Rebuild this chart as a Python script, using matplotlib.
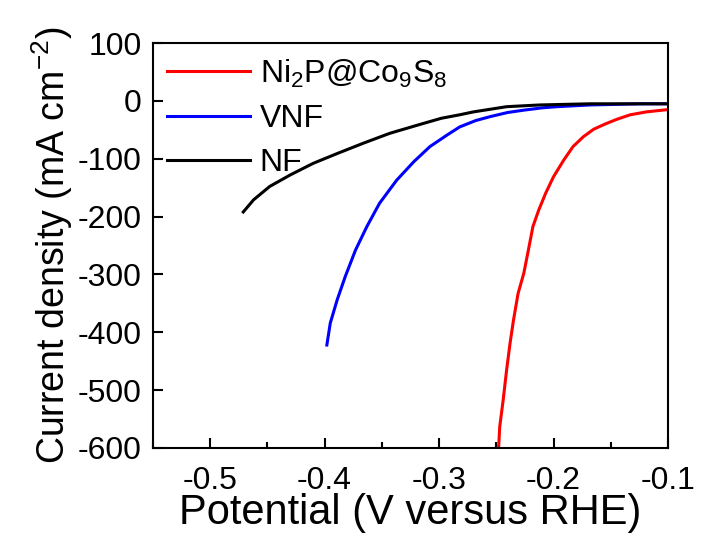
import matplotlib
matplotlib.use('Agg')
import matplotlib.pyplot as plt
import matplotlib.ticker as mticker

plt.rcParams['font.family'] = ['Liberation Sans', 'DejaVu Sans']
plt.rcParams['mathtext.fontset'] = 'custom'
plt.rcParams['mathtext.rm'] = 'Liberation Sans'
plt.rcParams['mathtext.it'] = 'Liberation Sans'
plt.rcParams['axes.unicode_minus'] = False

# Ni2P@Co9S8 polarisation curve (V vs RHE, mA cm-2)
ni2p_v = [-0.248, -0.247, -0.244, -0.241, -0.238, -0.235, -0.231, -0.226,
          -0.222, -0.218, -0.213, -0.207, -0.200, -0.191, -0.183, -0.174,
          -0.165, -0.155, -0.145, -0.133, -0.119, -0.100]
ni2p_j = [-600, -563, -517, -465, -419, -379, -333, -298,
          -258, -217, -189, -160, -131, -102, -79, -62,
          -49, -40, -32, -24, -19, -15]

# VNF
vnf_v = [-0.398, -0.395, -0.389, -0.382, -0.373, -0.363, -0.352, -0.337,
         -0.322, -0.308, -0.293, -0.282, -0.268, -0.255, -0.240, -0.226,
         -0.210, -0.197, -0.168, -0.124, -0.100]
vnf_j = [-422, -384, -344, -304, -258, -217, -177, -137,
         -105, -79, -59, -45, -34, -27, -20, -16,
         -12, -10, -7, -5, -5]

# NF
nf_v = [-0.471, -0.462, -0.448, -0.430, -0.410, -0.389, -0.366, -0.343,
        -0.319, -0.298, -0.282, -0.270, -0.241, -0.212, -0.168, -0.130, -0.100]
nf_j = [-192, -171, -148, -128, -108, -91, -73, -56,
        -42, -30, -24, -19, -10, -7, -5, -5, -5]

labels = ['Ni$_2$P@Co$_9$S$_8$', 'VNF', 'NF']
colors = ['#ff0000', '#0000ff', '#000000']

fig = plt.figure(figsize=(7.01, 5.45), dpi=100)
ax = fig.add_axes([0.218, 0.178, 0.735, 0.743])

ax.plot(ni2p_v, ni2p_j, color=colors[0], lw=2.2, label=labels[0])
ax.plot(vnf_v, vnf_j, color=colors[1], lw=2.2, label=labels[1])
ax.plot(nf_v, nf_j, color=colors[2], lw=2.2, label=labels[2])

ax.set_xlim(-0.55, -0.1)
ax.set_ylim(-600, 100)
ax.xaxis.set_major_locator(mticker.MultipleLocator(0.1))
ax.xaxis.set_minor_locator(mticker.MultipleLocator(0.05))
ax.yaxis.set_major_locator(mticker.MultipleLocator(100))
ax.xaxis.set_major_formatter(mticker.FormatStrFormatter('%.1f'))

for s in ax.spines.values():
    s.set_linewidth(1.5)
ax.tick_params(which='both', direction='in', top=False, right=False,
               width=1.5, labelsize=23)
ax.tick_params(axis='x', pad=13)
ax.tick_params(axis='y', pad=8)
ax.tick_params(which='major', length=7)
ax.tick_params(which='minor', length=4)

ax.set_xlabel('Potential (V versus RHE)', fontsize=30, labelpad=-2)
ax.set_ylabel('Current density (mA cm$^{-2}$)', fontsize=27, labelpad=2)

ax.legend(loc='upper left', frameon=False, fontsize=23, handlelength=2.6,
          labelspacing=0.45, handletextpad=0.3, borderaxespad=0.4,
          borderpad=0.05)

fig.savefig('out.png', dpi=100)
